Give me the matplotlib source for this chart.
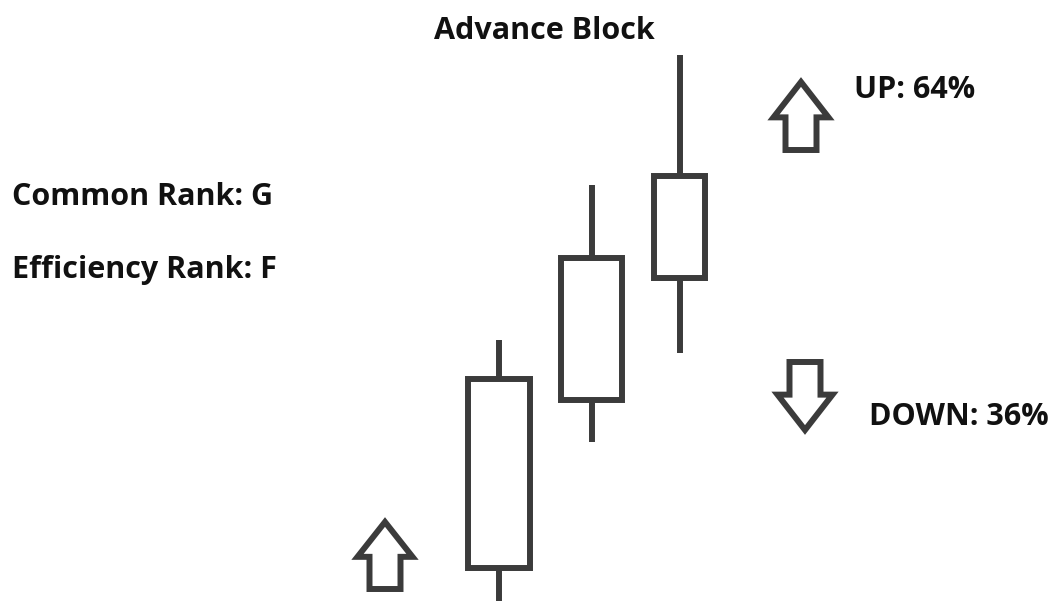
import matplotlib
matplotlib.use('agg')
import matplotlib.pyplot as plt
from matplotlib.patches import Rectangle, Polygon

# candle data (price units, higher = up)
x_pos = [499, 591.5, 679.5]
opens = [33, 201, 323]
closes = [222, 343, 425]
highs = [261, 416, 546]
lows = [-10, 159, 248]
widths = [62, 61, 51]

# arrows: x center, tail level, tip level
arrow_x = [385, 801, 805]
arrow_tail = [12, 451, 239]
arrow_tip = [79, 519, 171]

labels = ['Advance Block', 'Common Rank: G', 'Efficiency Rank: F', 'UP: 64%', 'DOWN: 36%']
label_x = [544, 12, 12, 854, 869]
label_y = [562, 396, 323, 503, 176]
label_ha = ['center', 'left', 'left', 'left', 'left']

col = '#3b3b3b'

fig = plt.figure(figsize=(10.58, 6.01), dpi=100)
ax = fig.add_axes([0, 0, 1, 1])
ax.set_xlim(0, 1058)
ax.set_ylim(0, 601)
ax.axis('off')

for x, o, c, h, l, w in zip(x_pos, opens, closes, highs, lows, widths):
    ax.plot([x, x], [c, h], color=col, lw=4.3, solid_capstyle='butt')
    ax.plot([x, x], [l, o], color=col, lw=4.3, solid_capstyle='butt')
    ax.add_patch(Rectangle((x - w / 2, o), w, c - o, facecolor='white',
                           edgecolor=col, lw=4.3))


def arrow(xc, tail, tip):
    d = 1 if tip > tail else -1
    length = abs(tip - tail)
    shoulder = tip - d * length * 0.52
    sw = 15.5  # half shaft width
    hw = 27.5  # half head width
    pts = [(xc - sw, tail), (xc + sw, tail), (xc + sw, shoulder),
           (xc + hw, shoulder), (xc, tip), (xc - hw, shoulder),
           (xc - sw, shoulder)]
    ax.add_patch(Polygon(pts, closed=True, facecolor='white', edgecolor=col,
                         lw=4.3, joinstyle='miter'))


for xc, t0, t1 in zip(arrow_x, arrow_tail, arrow_tip):
    arrow(xc, t0, t1)

for s, x, y, ha in zip(labels, label_x, label_y, label_ha):
    ax.text(x, y, s, ha=ha, va='baseline', fontsize=22, fontweight='bold',
            family='Open Sans', color='#111111')

fig.savefig('out.png', dpi=100)
